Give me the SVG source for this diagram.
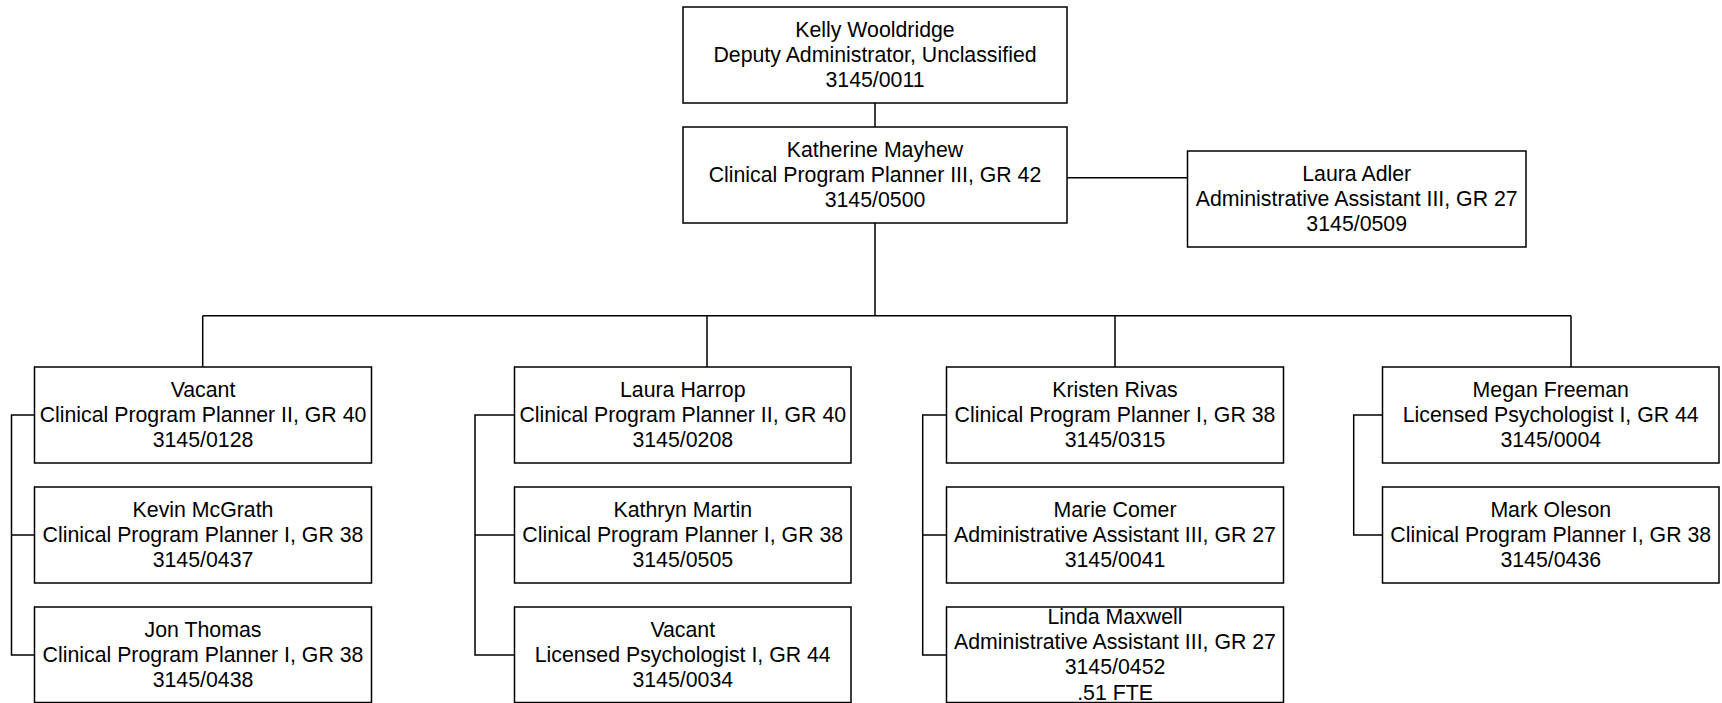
<svg xmlns="http://www.w3.org/2000/svg" width="1722" height="703" viewBox="0 0 1722 703">
<style>
.box{fill:#fff;stroke:#000;stroke-width:1.5}
.c{fill:none;stroke:#000;stroke-width:1.5}
text{font-family:"Liberation Sans",Arial,sans-serif;font-size:21.3px;fill:#000;text-anchor:middle}
</style>
<rect width="1722" height="703" fill="#fff"/>
<g id="connectors">
<path class="c" d="M875 103V127"/>
<path class="c" d="M1067 177.7H1187.5"/>
<path class="c" d="M875 223V315.7"/>
<path class="c" d="M202.7 315.7H1571"/>
<path class="c" d="M202.7 315.7V367M707 315.7V367M1115 315.7V367M1571 315.7V367"/>
<path class="c" d="M34.5 415H11.5V655H34.5M11.5 535H34.5"/>
<path class="c" d="M514.5 415H475V655H514.5M475 535H514.5"/>
<path class="c" d="M946.5 415H922.7V655H946.5M922.7 535H946.5"/>
<path class="c" d="M1382.5 415H1353.7V535H1382.5"/>
</g>
<g id="kelly"><rect class="box" x="683" y="7" width="384" height="96"/><text x="875" y="36.5">Kelly Wooldridge</text><text x="875" y="61.7">Deputy Administrator, Unclassified</text><text x="875" y="86.9">3145/0011</text></g>
<g id="katherine"><rect class="box" x="683" y="127" width="384" height="96"/><text x="875" y="156.5">Katherine Mayhew</text><text x="875" y="181.7">Clinical Program Planner III, GR 42</text><text x="875" y="206.9">3145/0500</text></g>
<g id="adler"><rect class="box" x="1187.5" y="151" width="338.5" height="96"/><text x="1356.7" y="180.5">Laura Adler</text><text x="1356.7" y="205.7">Administrative Assistant III, GR 27</text><text x="1356.7" y="230.9">3145/0509</text></g>

<g id="vacant1"><rect class="box" x="34.5" y="367" width="337" height="96"/><text x="203" y="396.5">Vacant</text><text x="203" y="421.7">Clinical Program Planner II, GR 40</text><text x="203" y="446.9">3145/0128</text></g>
<g id="mcgrath"><rect class="box" x="34.5" y="487" width="337" height="96"/><text x="203" y="516.5">Kevin McGrath</text><text x="203" y="541.7">Clinical Program Planner I, GR 38</text><text x="203" y="566.9">3145/0437</text></g>
<g id="thomas"><rect class="box" x="34.5" y="607" width="337" height="95.5"/><text x="203" y="636.5">Jon Thomas</text><text x="203" y="661.7">Clinical Program Planner I, GR 38</text><text x="203" y="686.9">3145/0438</text></g>

<g id="harrop"><rect class="box" x="514.5" y="367" width="336.5" height="96"/><text x="682.75" y="396.5">Laura Harrop</text><text x="682.75" y="421.7">Clinical Program Planner II, GR 40</text><text x="682.75" y="446.9">3145/0208</text></g>
<g id="martin"><rect class="box" x="514.5" y="487" width="336.5" height="96"/><text x="682.75" y="516.5">Kathryn Martin</text><text x="682.75" y="541.7">Clinical Program Planner I, GR 38</text><text x="682.75" y="566.9">3145/0505</text></g>
<g id="vacant2"><rect class="box" x="514.5" y="607" width="336.5" height="95.5"/><text x="682.75" y="636.5">Vacant</text><text x="682.75" y="661.7">Licensed Psychologist I, GR 44</text><text x="682.75" y="686.9">3145/0034</text></g>

<g id="rivas"><rect class="box" x="946.5" y="367" width="337" height="96"/><text x="1115" y="396.5">Kristen Rivas</text><text x="1115" y="421.7">Clinical Program Planner I, GR 38</text><text x="1115" y="446.9">3145/0315</text></g>
<g id="comer"><rect class="box" x="946.5" y="487" width="337" height="96"/><text x="1115" y="516.5">Marie Comer</text><text x="1115" y="541.7">Administrative Assistant III, GR 27</text><text x="1115" y="566.9">3145/0041</text></g>
<g id="maxwell"><rect class="box" x="946.5" y="607" width="337" height="95.5"/><text x="1115" y="623.9">Linda Maxwell</text><text x="1115" y="649.1">Administrative Assistant III, GR 27</text><text x="1115" y="674.3">3145/0452</text><text x="1115" y="699.5">.51 FTE</text></g>

<g id="freeman"><rect class="box" x="1382.5" y="367" width="336.5" height="96"/><text x="1550.75" y="396.5">Megan Freeman</text><text x="1550.75" y="421.7">Licensed Psychologist I, GR 44</text><text x="1550.75" y="446.9">3145/0004</text></g>
<g id="oleson"><rect class="box" x="1382.5" y="487" width="336.5" height="96"/><text x="1550.75" y="516.5">Mark Oleson</text><text x="1550.75" y="541.7">Clinical Program Planner I, GR 38</text><text x="1550.75" y="566.9">3145/0436</text></g>
</svg>
